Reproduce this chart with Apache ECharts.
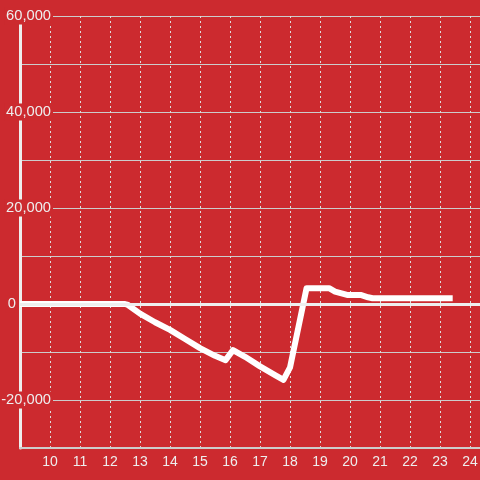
<!DOCTYPE html>
<html>
<head>
<meta charset="utf-8">
<script src="https://cdn.jsdelivr.net/npm/echarts@6/dist/echarts.min.js"></script>
<style>html,body{margin:0;padding:0;background:#cc2a2f;}#c{width:480px;height:480px;}</style>
</head>
<body>
<div id="c"></div>
<script>
const hours = [9.0, 12.5, 12.6, 13.0, 13.5, 14.0, 14.5, 15.0, 15.5, 15.85, 16.1, 16.5, 17.0, 17.5, 17.78, 18.0, 18.55, 19.3, 19.5, 19.9, 20.35, 20.6, 20.75, 23.42];
const values = [0, 0, -200, -2000, -3800, -5400, -7300, -9200, -10800, -11700, -9600, -11000, -13000, -14800, -15800, -13200, 3300, 3300, 2600, 1900, 1900, 1400, 1200, 1200];
const yTicks = [-30000, -20000, -10000, 0, 10000, 20000, 30000, 40000, 50000, 60000];

const chart = echarts.init(document.getElementById('c'));
const bg = '#cc2a2f';
const labelStyle = {fontSize: 14.7, fontFamily: 'Liberation Sans', color: '#eeeeee', backgroundColor: bg, padding: [1, 2, 1, 2], lineHeight: 16};
chart.setOption({
  backgroundColor: bg,
  animation: false,
  grid: {left: 20, right: 0, top: 16, bottom: 32, containLabel: false, outerBoundsMode: 'none'},
  xAxis: {
    type: 'value', min: 9, max: 24.33, interval: 1,
    axisLine: {show: true, onZero: false, lineStyle: {color: '#cccccc', width: 2}},
    axisTick: {show: false},
    axisLabel: {color: '#eeeeee', fontSize: 14, fontFamily: 'Liberation Sans', margin: 7, showMinLabel: false, showMaxLabel: false},
    splitLine: {show: true, lineStyle: {color: '#dddddd', width: 1, type: [2, 3]}}
  },
  yAxis: {
    type: 'value', min: yTicks[0], max: yTicks[yTicks.length - 1], interval: 10000,
    axisLine: {show: true, lineStyle: {color: '#eeeeee', width: 3}},
    axisTick: {show: false},
    axisLabel: {
      margin: -33, fontSize: 14.7, fontFamily: 'Liberation Sans', hideOverlap: false, overflow: 'none', width: 80,
      formatter: v => {
        if (v % 20000 !== 0) return '';
        if (v === 0) return '{a|0}{s|}';
        return '{a|' + v.toLocaleString('en-US') + '}';
      },
      rich: {a: labelStyle, s: {width: 35, fontSize: 14.7}}
    },
    splitLine: {show: true, lineStyle: {color: '#cccccc', width: 1}}
  },
  series: [{
    type: 'line',
    data: hours.map((h, i) => [h, values[i]]),
    showSymbol: false,
    lineStyle: {color: '#ffffff', width: 6, join: 'round'},
    z: 3,
    markLine: {
      silent: true, symbol: 'none', label: {show: false},
      lineStyle: {color: '#eeeeee', width: 3, type: 'solid'},
      data: [{yAxis: 0}]
    }
  }]
});
</script>
</body>
</html>
